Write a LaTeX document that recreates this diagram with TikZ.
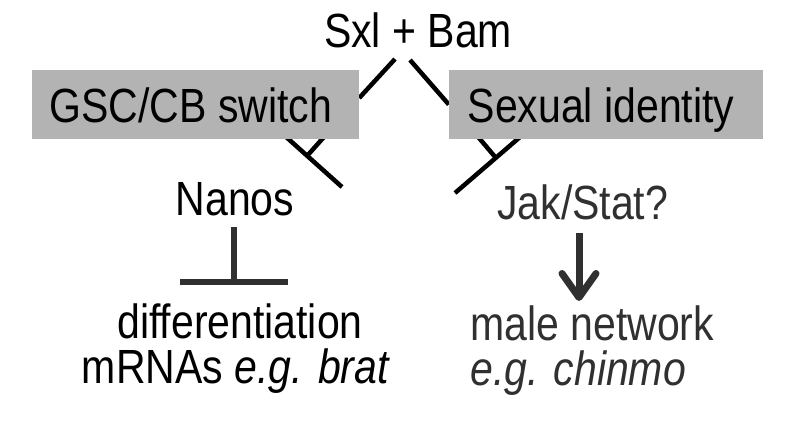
\documentclass[tikz,border=0pt]{standalone}
\usepackage{fontspec}
\usepackage{graphicx}
\setmainfont{Liberation Sans}
\usetikzlibrary{arrows.meta,backgrounds}
\definecolor{boxgray}{RGB}{179,179,179}
\definecolor{dk}{RGB}{48,48,48}
\newcommand{\tallt}[1]{\scalebox{1}[1.17]{#1}}
\begin{document}
\begin{tikzpicture}[x=1pt,y=-1pt,
  lbl/.style={font=\fontsize{41}{49}\selectfont, inner sep=0pt, anchor=base},
  graybox/.style={fill=boxgray, draw=none, inner sep=0pt},
  blk/.style={line width=4.5pt, black},
  dkline/.style={line width=6pt, dk}]
\useasboundingbox (0,0) rectangle (800,425);
% boxes
\node[graybox, minimum width=327pt, minimum height=69pt] (gscbox) at (195.5,104.5) {};
\node[graybox, minimum width=314pt, minimum height=69pt] (sexbox) at (606,104.5) {};
% texts
\node[lbl] (sxl) at (418,48) {\tallt{Sxl + Bam}};
\node[lbl] (gsc) at (191,123) {\tallt{GSC/CB switch}};
\node[lbl] (sex) at (601,123) {\tallt{Sexual identity}};
\node[lbl] (nanos) at (235,215) {\tallt{Nanos}};
\node[lbl, anchor=base west, text=dk] (jak) at (497,219) {\tallt{Jak/Stat?}};
\node[lbl] (diff) at (240,338) {\tallt{differentiation}};
\node[lbl] (mrna) at (236,383) {\tallt{mRNAs \textit{e.g. brat}}};
\node[lbl, anchor=base west, text=dk] (male) at (470,340) {\tallt{male network}};
\node[lbl, anchor=base west, text=dk] (chinmo) at (470,385) {\tallt{\textit{e.g. chinmo}}};
% connector coordinates
\coordinate (sl) at (395,59);
\coordinate (sr) at (410,60);
\coordinate (gl1) at (342,187);
\coordinate (gl2) at (275,127);
\coordinate (gj) at (307,156);
\coordinate (gs) at (327,133.6);
\coordinate (sr1) at (455,193);
\coordinate (sr2) at (527,131);
\coordinate (sj) at (496,158);
\coordinate (ss) at (476.5,135);
\coordinate (nt) at (234,227);
\coordinate (nb) at (234,282);
\coordinate (nbl) at (180,282);
\coordinate (nbr) at (288,282);
\coordinate (at) at (579,233);
\coordinate (ah) at (579,301);
\begin{scope}[on background layer]
\fill[white] (0,0) rectangle (800,425);
\draw[blk] (sl) -- ([yshift=6.5pt]gscbox.east);
\draw[blk] (sr) -- (sexbox.west);
\draw[blk] (gl1) -- (gl2);
\draw[blk] (gj) -- (gs);
\draw[blk] (sr1) -- (sr2);
\draw[blk] (sj) -- (ss);
\end{scope}
\draw[dkline] (nt) -- (nb);
\draw[dkline] (nbl) -- (nbr);
\draw[dk, line width=7pt, -{Straight Barb[length=24pt,width=34pt,round]}] (at) -- (ah);
\end{tikzpicture}
\end{document}
